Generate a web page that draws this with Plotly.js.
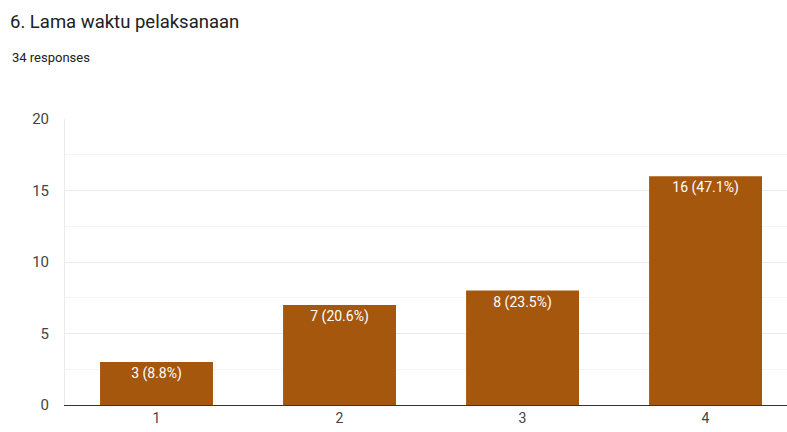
<!DOCTYPE html>
<html><head><meta charset="utf-8">
<script src="https://cdn.plot.ly/plotly-3.0.1.min.js"></script>
<style>html,body{margin:0;padding:0;background:#fff}#c{width:787px;height:432px}</style>
</head><body><div id="c"></div>
<script>
const categories = ['1', '2', '3', '4'];
const counts = [3, 7, 8, 16];
const labels = ['3 (8.8%)', '7 (20.6%)', '8 (23.5%)', '16 (47.1%)'];
const yTicks = [0, 5, 10, 15, 20];

const trace = {
  type: 'bar', x: categories, y: counts, text: labels,
  textposition: 'inside', insidetextanchor: 'end',
  textfont: {family: 'Roboto, sans-serif', size: 14, color: '#ffffff'},
  marker: {color: '#A4570D'}, width: 0.617, hoverinfo: 'none',
  cliponaxis: false
};
const layout = {
  width: 787, height: 432,
  margin: {l: 65, r: 0, t: 119, b: 27},
  paper_bgcolor: '#fff', plot_bgcolor: '#fff',
  font: {family: 'Roboto, sans-serif', color: '#444'},
  showlegend: false,
  xaxis: {type: 'category', range: [-0.5, 3.445], showgrid: false, showline: true,
    linecolor: '#333', linewidth: 1, ticks: '', tickfont: {size: 14, color: '#444'}, fixedrange: true},
  yaxis: {range: [0, 20], tickvals: yTicks, ticktext: yTicks.map(String), showgrid: true, gridcolor: '#ebebeb',
    minor: {dtick: 2.5, tick0: 0, showgrid: true, gridcolor: '#f5f5f5', ticks: ''},
    showline: true, linecolor: '#ebebeb', zeroline: false, ticks: '', ticklabelstandoff: 12,
    tickfont: {size: 15, color: '#444'}, fixedrange: true},
  title: {text: '6. Lama waktu pelaksanaan', xref: 'container', yref: 'container', x: 10/787, y: 1 - 22/432,
    xanchor: 'left', yanchor: 'middle', font: {family: 'Roboto, sans-serif', size: 18.5, color: '#202124'}},
  annotations: [{text: '34 responses', xref: 'paper', yref: 'paper', x: -55/722, y: 1 + (119-58)/286,
    xanchor: 'left', yanchor: 'middle', showarrow: false, font: {family: 'Roboto, sans-serif', size: 13, color: '#202124'}}]
};
Plotly.newPlot('c', [trace], layout, {displayModeBar: false, staticPlot: true});
</script></body></html>
